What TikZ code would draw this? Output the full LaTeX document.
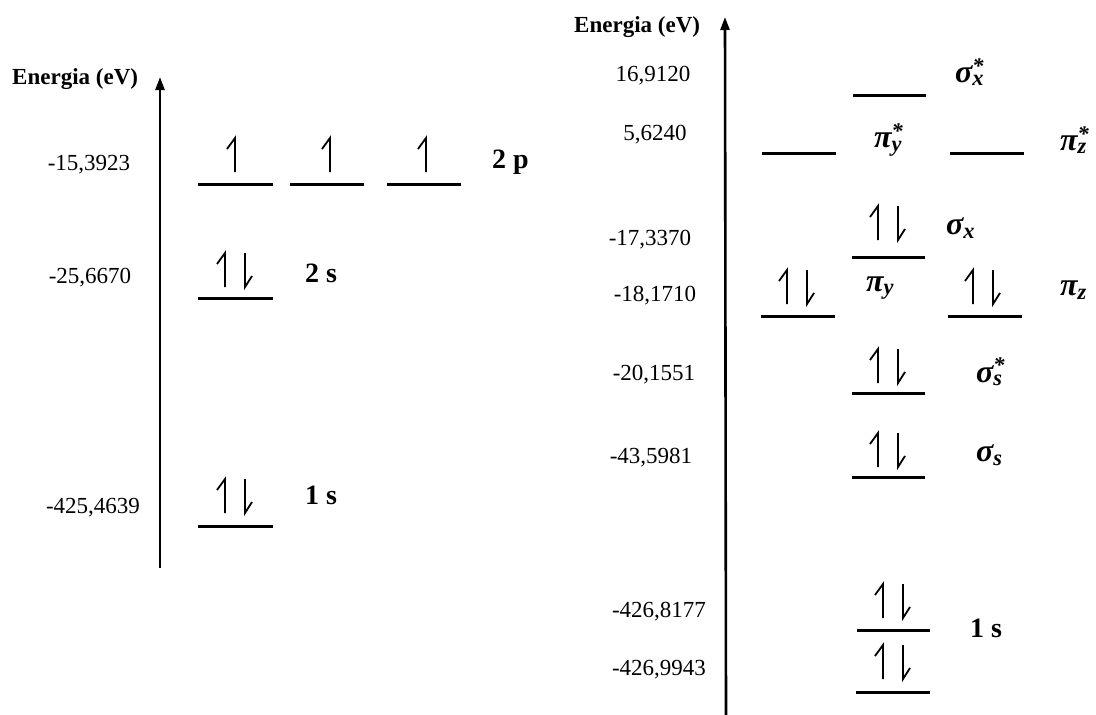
\documentclass[tikz,border=0pt]{standalone}
\usepackage{fontspec}
\setmainfont{Liberation Serif}
\usetikzlibrary{arrows.meta}
\newcommand{\gsub}[2]{#1\textsubscript{#2}}
\newcommand{\gsubs}[2]{#1\rlap{\textsuperscript{*}}\textsubscript{#2}}
\begin{document}
\begin{tikzpicture}[x=1pt,y=-1pt,
  level/.style={line width=3pt},
  axis/.style={line width=2.6pt,-{Triangle[length=13pt,width=9pt]}},
  spin/.style={line width=1.8pt},
  num/.style={font=\fontsize{23}{25}\selectfont,inner sep=0pt},
  numb/.style={font=\fontsize{23}{25}\selectfont\bfseries,inner sep=0pt},
  orb/.style={font=\fontsize{28}{30}\selectfont\bfseries,inner sep=0pt},
  greek/.style={font=\fontsize{32}{34}\selectfont\bfseries\itshape,inner sep=0pt},
  eup/.pic={\draw[spin] (0,17) -- (0,-17) -- (-8,-6);},
  edn/.pic={\draw[spin] (0,-17) -- (0,17) -- (7,6);},
  epair/.pic={\pic at (-10,0) {eup}; \pic at (10,0) {edn};}
]
\useasboundingbox (0,0) rectangle (1096,715);

% ---------- left panel ----------
\coordinate (la0) at (160,568);
\coordinate (la1) at (160,77);
\draw[axis] (la0) -- (la1);
\node[numb,anchor=west] (lE) at (12,79) {Energia (eV)};

\node[num] (l1) at (89,165) {-15,3923};
\node[num] (l2) at (90,278) {-25,6670};
\node[num] (l3) at (93,508) {-425,4639};

% 2p
\draw[level] (198,184) -- (273,184);
\draw[level] (290,184) -- (364,184);
\draw[level] (387,184) -- (461,184);
\pic at (235,155) {eup};
\pic at (330,155) {eup};
\pic at (426,155) {eup};
\node[orb,anchor=west] (l2p) at (492,162) {2 p};

% 2s
\draw[level] (198,298) -- (273,298);
\pic at (235,270) {epair};
\node[orb,anchor=west] (l2s) at (305,273) {2 s};

% 1s
\draw[level] (198,526) -- (273,526);
\pic at (235,496) {epair};
\node[orb,anchor=west] (l1s) at (305,495) {1 s};

% ---------- right panel ----------
\coordinate (ra0) at (726,715);
\coordinate (ra1) at (725,17);
\draw[axis] (ra0) -- (ra1);
\node[numb,anchor=west] (rE) at (574,27) {Energia (eV)};

\node[num] (r1) at (653,76) {16,9120};
\node[num] (r2) at (655,135) {5,6240};
\node[num] (r3) at (650,240) {-17,3370};
\node[num] (r4) at (655,296) {-18,1710};
\node[num] (r5) at (654,375) {-20,1551};
\node[num] (r6) at (651,458) {-43,5981};
\node[num] (r7) at (659,612) {-426,8177};
\node[num] (r8) at (659,670) {-426,9943};

% sigma_x*
\draw[level] (853,95) -- (926,95);
\node[greek,anchor=west] (sxs) at (955,72) {\gsubs{σ}{x}};
% pi*
\draw[level] (762,153) -- (836,153);
\draw[level] (950,153) -- (1024,153);
\node[greek] (pys) at (888,140) {\gsubs{π}{y}};
\node[greek,anchor=west] (pzs) at (1060,140) {\gsubs{π}{z}};
% sigma_x
\draw[level] (852,257) -- (925,257);
\pic at (888,223) {epair};
\node[greek,anchor=west] (sx) at (946,228) {\gsub{σ}{x}};
% pi
\draw[level] (761,316) -- (835,316);
\draw[level] (948,316) -- (1022,316);
\pic at (797,287) {epair};
\pic at (983,287) {epair};
\node[greek] (py) at (880,288) {\gsub{π}{y}};
\node[greek,anchor=west] (pz) at (1060,290) {\gsub{π}{z}};
% sigma_s*
\draw[level] (852,393) -- (925,393);
\pic at (888,366) {epair};
\node[greek,anchor=west] (sss) at (976,372) {\gsubs{σ}{s}};
% sigma_s
\draw[level] (852,477) -- (925,477);
\pic at (888,450) {epair};
\node[greek,anchor=west] (ss) at (976,455) {\gsub{σ}{s}};
% 1s
\draw[level] (857,630) -- (930,630);
\pic at (893,601) {epair};
\draw[level] (856,692) -- (930,692);
\pic at (893,662) {epair};
\node[orb,anchor=west] (r1s) at (970,628) {1 s};
\end{tikzpicture}
\end{document}
